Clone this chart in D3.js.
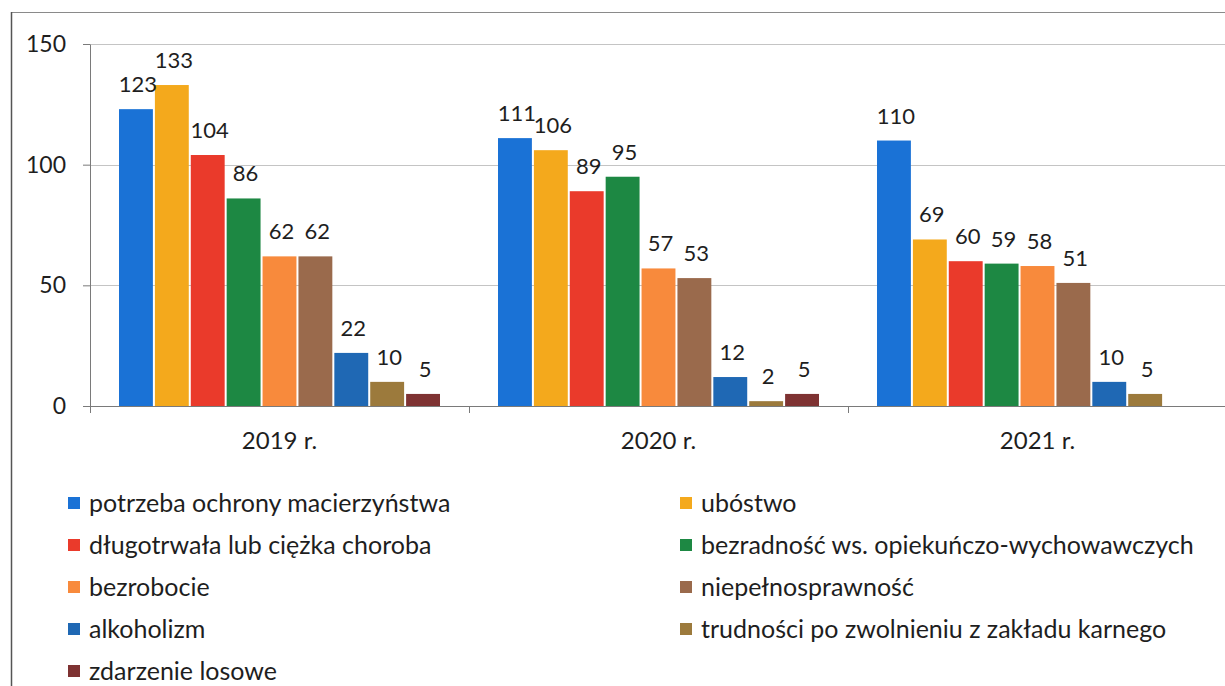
<!DOCTYPE html>
<html>
<head>
<meta charset="utf-8">
<script src="https://cdn.jsdelivr.net/npm/d3@7"></script>
<style>
    html, body { margin: 0; padding: 0; background: #fff; }
    svg text { font-family: Lato, "Open Sans", sans-serif; fill: #1e1e1e; }
</style>
</head>
<body>
<svg id="chart" width="1225" height="686"></svg>
<script>
(function() {
    'use strict';

    var years = ['2019 r.', '2020 r.', '2021 r.'];

    var seriesNames = [
        'potrzeba ochrony macierzyństwa',
        'ubóstwo',
        'długotrwała lub ciężka choroba',
        'bezradność ws. opiekuńczo-wychowawczych',
        'bezrobocie',
        'niepełnosprawność',
        'alkoholizm',
        'trudności po zwolnieniu z zakładu karnego',
        'zdarzenie losowe'
    ];

    // one array per series, values for 2019, 2020, 2021
    var values = [
        [123, 111, 110],
        [133, 106, 69],
        [104, 89, 60],
        [86, 95, 59],
        [62, 57, 58],
        [62, 53, 51],
        [22, 12, 10],
        [10, 2, 5],
        [5, 5, null]
    ];

    var yTicks = [0, 50, 100, 150];

    var colors = ['#1a72d6', '#f4a91c', '#ea3a2b', '#1d8843', '#f88a3c',
                  '#9a6a4c', '#1f68b4', '#9c7a3c', '#7e3232'];

    var svg = d3.select('#chart');

    var x0 = d3.scaleBand().domain(years).range([90, 1227]);
    var x1 = d3.scaleBand().domain(d3.range(seriesNames.length))
        .range([28, x0.bandwidth() - 28]);
    var y = d3.scaleLinear().domain([0, 150]).range([406, 44]);

    // frame
    svg.append('line').attr('x1', 11).attr('x2', 1225).attr('y1', 12.5).attr('y2', 12.5)
        .attr('stroke', '#8a8a8a').attr('stroke-width', 1);
    svg.append('line').attr('x1', 11.5).attr('x2', 11.5).attr('y1', 12).attr('y2', 686)
        .attr('stroke', '#555').attr('stroke-width', 1.5);

    // gridlines
    svg.append('g')
        .selectAll('line')
        .data(yTicks.filter(function(d) { return d > 0; }))
        .enter().append('line')
        .attr('x1', 90).attr('x2', 1225)
        .attr('y1', function(d) { return Math.round(y(d)) + 0.5; })
        .attr('y2', function(d) { return Math.round(y(d)) + 0.5; })
        .attr('stroke', '#c4c4c4').attr('stroke-width', 1);

    // bars
    var groups = svg.append('g')
        .selectAll('g')
        .data(seriesNames)
        .enter().append('g')
        .attr('fill', function(d, i) { return colors[i]; });

    groups.selectAll('rect')
        .data(function(d, i) {
            return years.map(function(yr, j) { return { year: yr, s: i, v: values[i][j] }; })
                .filter(function(p) { return p.v !== null; });
        })
        .enter().append('rect')
        .attr('x', function(d) { return x0(d.year) + x1(d.s) + 1; })
        .attr('width', x1.bandwidth() - 2)
        .attr('y', function(d) { return y(d.v); })
        .attr('height', function(d) { return y(0) - y(d.v); });

    // value labels
    var labels = svg.append('g')
        .attr('font-size', 22)
        .attr('text-anchor', 'middle');

    seriesNames.forEach(function(name, i) {
        years.forEach(function(yr, j) {
            var v = values[i][j];
            if (v === null) return;
            labels.append('text')
                .attr('x', x0(yr) + x1(i) + x1.bandwidth() / 2 + 2)
                .attr('y', y(v) - 17)
                .text(v);
        });
    });

    // y axis
    var yAxis = svg.append('g')
        .attr('transform', 'translate(90,0)')
        .call(d3.axisLeft(y).tickValues(yTicks).tickSize(7).tickSizeOuter(0).tickPadding(17));
    yAxis.select('.domain').attr('stroke', '#7a7a7a');
    yAxis.selectAll('.tick line').attr('stroke', '#7a7a7a');
    yAxis.selectAll('.tick text')
        .attr('font-size', 23)
        .attr('font-family', 'Lato, sans-serif')
        .attr('fill', '#1e1e1e');

    // x axis
    var xAxis = svg.append('g');
    xAxis.append('line')
        .attr('x1', 90).attr('x2', 1225).attr('y1', 406.5).attr('y2', 406.5)
        .attr('stroke', '#7a7a7a');
    xAxis.selectAll('line.tk')
        .data(years.map(function(d) { return x0(d); }).concat([x0.range()[1]]))
        .enter().append('line')
        .attr('class', 'tk')
        .attr('x1', function(d) { return Math.round(d) + 0.5; })
        .attr('x2', function(d) { return Math.round(d) + 0.5; })
        .attr('y1', 406).attr('y2', 413)
        .attr('stroke', '#7a7a7a');
    xAxis.selectAll('text')
        .data(years)
        .enter().append('text')
        .attr('x', function(d) { return x0(d) + x0.bandwidth() / 2; })
        .attr('y', 449)
        .attr('text-anchor', 'middle')
        .attr('font-size', 24)
        .text(function(d) { return d; });

    // legend, two columns, row-major
    var legend = svg.append('g')
        .selectAll('g')
        .data(seriesNames)
        .enter().append('g')
        .attr('transform', function(d, i) {
            var col = i % 2;
            var row = Math.floor(i / 2);
            return 'translate(' + (col ? 680 : 68) + ',' + (503 + row * 42) + ')';
        });

    legend.append('rect')
        .attr('x', 0).attr('y', -6)
        .attr('width', 12).attr('height', 12)
        .attr('fill', function(d, i) { return colors[i]; });

    legend.append('text')
        .attr('x', 21)
        .attr('y', 9)
        .attr('font-size', 25)
        .text(function(d) { return d; });
}());
</script>
</body>
</html>
